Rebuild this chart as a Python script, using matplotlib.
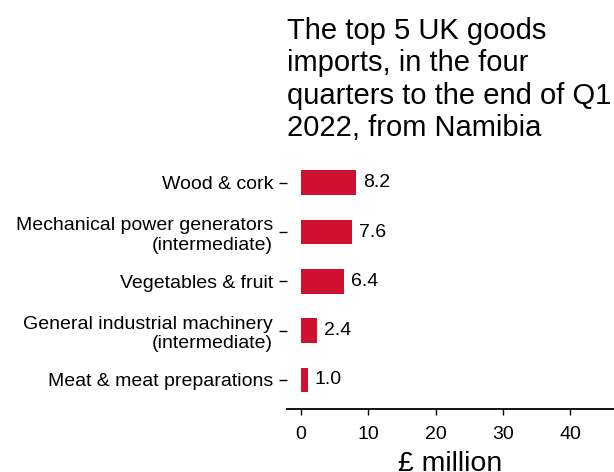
import matplotlib
matplotlib.use("Agg")
import matplotlib.pyplot as plt

plt.rcParams['font.family'] = ['Liberation Sans', 'DejaVu Sans']

# data
categories = ["Wood & cork",
              "Mechanical power generators\n(intermediate)",
              "Vegetables & fruit",
              "General industrial machinery\n(intermediate)",
              "Meat & meat preparations"]
values = [8.2, 7.6, 6.4, 2.4, 1.0]
value_labels = ["8.2", "7.6", "6.4", "2.4", "1.0"]
xticks = [0, 10, 20, 30, 40]

title = "The top 5 UK goods\nimports, in the four\nquarters to the end of Q1\n2022, from Namibia"
bar_color = "#cf102e"

fig = plt.figure(figsize=(6.14, 4.72), dpi=100)
ax = fig.add_axes([287 / 614, 62.7 / 472, 1 - 287 / 614, (409.3 - 160) / 472])

ypos = list(range(len(categories)))
ax.barh(ypos, values, height=0.5, color=bar_color)
for y, v, lab in zip(ypos, values, value_labels):
    ax.annotate(lab, (v, y), xytext=(5, 0), textcoords="offset points",
                va="center", ha="left", fontsize=14)

ax.set_yticks(ypos)
ax.set_yticklabels(categories, fontsize=14)
ax.set_ylim(4.594, -0.46)
ax.set_xlim(-2.05, 46.5)
ax.set_xticks(xticks)
ax.set_xticklabels([str(t) for t in xticks], fontsize=14)

for s in ["top", "right", "left"]:
    ax.spines[s].set_visible(False)
ax.spines["bottom"].set_linewidth(1.3)
ax.tick_params(axis="y", length=6, width=1, pad=4)
ax.tick_params(axis="x", length=4, width=1, pad=8)
ax.set_xlabel("£ million", fontsize=20.5, labelpad=6)

fig.text(287 / 614, 1 - 17 / 472, title, fontsize=21, va="top", ha="left",
         linespacing=1.2)

fig.savefig("out.png", dpi=100)
